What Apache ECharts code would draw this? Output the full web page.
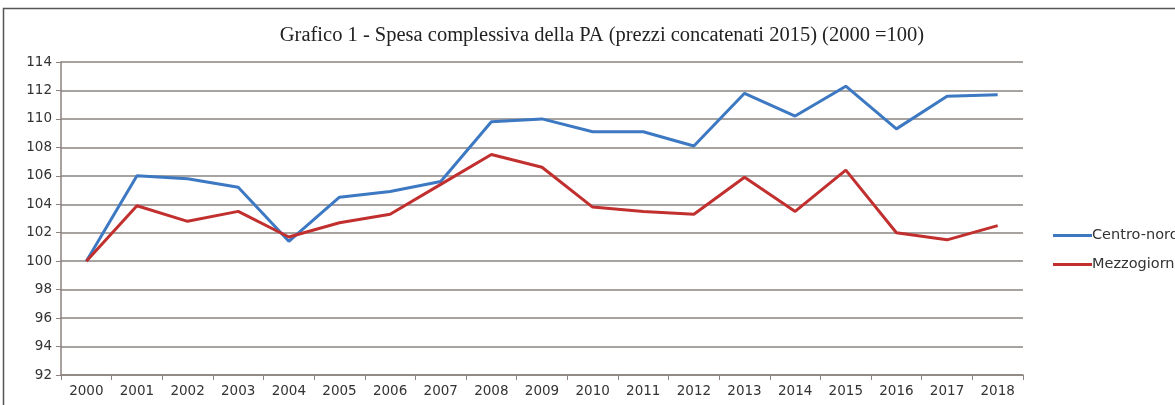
<!DOCTYPE html>
<html>
<head>
<meta charset="utf-8">
<script src="https://cdn.jsdelivr.net/npm/echarts@6/dist/echarts.min.js"></script>
<style>html,body{margin:0;padding:0;background:#fff;}#c{width:1175px;height:405px;}</style>
</head>
<body>
<div id="c"></div>
<script>
var years = ['2000','2001','2002','2003','2004','2005','2006','2007','2008','2009','2010','2011','2012','2013','2014','2015','2016','2017','2018'];
var centroNord = [100, 106.0, 105.8, 105.2, 101.4, 104.5, 104.9, 105.6, 109.8, 110.0, 109.1, 109.1, 108.1, 111.8, 110.2, 112.3, 109.3, 111.6, 111.7];
var mezzogiorno = [100, 103.9, 102.8, 103.5, 101.7, 102.7, 103.3, 105.4, 107.5, 106.6, 103.8, 103.5, 103.3, 105.9, 103.5, 106.4, 102.0, 101.5, 102.5];
var yMin = 92, yMax = 114, yStep = 2;
var title = 'Grafico 1 - Spesa complessiva della PA (prezzi concatenati 2015) (2000 =100)';

var chart = echarts.init(document.getElementById('c'), null, {renderer: 'canvas'});
var axisCol = '#8c827e';
var labelFont = {color: '#333', fontFamily: 'DejaVu Sans', fontSize: 13.5};
chart.setOption({
  animation: false,
  backgroundColor: '#fff',
  title: {
    text: title, left: 597, textAlign: 'center', top: 20,
    textStyle: {fontFamily: 'Liberation Serif', fontSize: 20.5, fontWeight: 'normal', color: '#222'}
  },
  graphic: [{
    type: 'rect', shape: {x: 3.5, y: 8.5, width: 1200, height: 420},
    style: {fill: 'none', stroke: '#555', lineWidth: 1.5}, silent: true
  }],
  legend: {
    orient: 'vertical', left: 1048, top: 223, itemWidth: 39, itemHeight: 3, itemGap: 14,
    icon: 'rect',
    textStyle: {color: '#333', fontFamily: 'DejaVu Sans', fontSize: 14.5, padding: [0, 0, 0, -5]},
    data: ['Centro-nord', 'Mezzogiorno']
  },
  grid: {left: 61, right: 152, top: 62, bottom: 30, containLabel: false},
  xAxis: {
    type: 'category', data: years, boundaryGap: true,
    axisLine: {lineStyle: {color: axisCol, width: 1.5}},
    axisTick: {show: true, length: 5, alignWithLabel: false, lineStyle: {color: axisCol}},
    axisLabel: Object.assign({margin: 9, interval: 0}, labelFont),
    splitLine: {show: false}
  },
  yAxis: {
    type: 'value', min: yMin, max: yMax, interval: yStep,
    axisLine: {show: true, lineStyle: {color: axisCol, width: 1.5}},
    axisTick: {show: true, length: 5, inside: false, lineStyle: {color: axisCol}},
    axisLabel: Object.assign({margin: 9}, labelFont),
    splitLine: {show: true, lineStyle: {color: '#8a8582', width: 1.5}}
  },
  series: [
    {name: 'Centro-nord', type: 'line', data: centroNord, symbol: 'none', color: '#3d78c2',
     lineStyle: {width: 3, color: '#3d78c2'}},
    {name: 'Mezzogiorno', type: 'line', data: mezzogiorno, symbol: 'none', color: '#c1302f',
     lineStyle: {width: 3, color: '#c1302f'}}
  ]
});
</script>
</body>
</html>
